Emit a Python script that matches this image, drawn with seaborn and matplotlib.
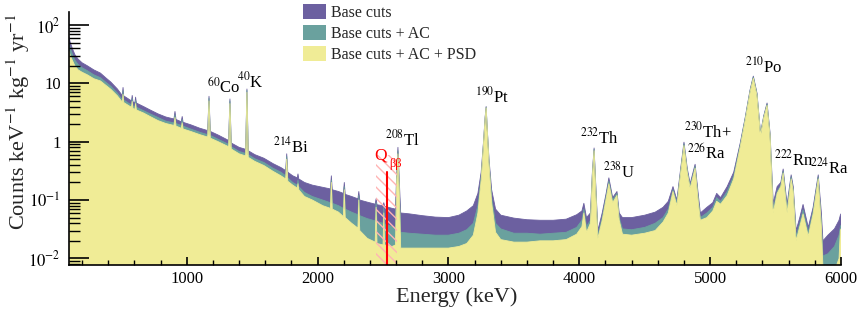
import numpy as np
import pandas as pd
import matplotlib
matplotlib.use("Agg")
import matplotlib.pyplot as plt
from matplotlib.patches import Patch
from matplotlib.ticker import FixedLocator, FixedFormatter, MultipleLocator, NullFormatter
import seaborn as sns

# ---------------- data ----------------
energy_kev = [
    100, 110, 125, 145, 170, 200, 240, 290, 340, 380, 420, 470, 500, 508, 513, 518,
    560, 578, 583, 589, 604, 609, 615, 670, 720, 780, 840, 902, 910, 918, 958, 965,
    972, 1030, 1100, 1160, 1170, 1180, 1240, 1320, 1330, 1340, 1400, 1450, 1460, 1470,
    1520, 1590, 1660, 1720, 1756, 1764, 1772, 1810, 1845, 1850, 1856, 1900, 1960, 2040,
    2098, 2105, 2112, 2160, 2197, 2204, 2211, 2260, 2308, 2315, 2322, 2380, 2440, 2447,
    2454, 2500, 2506, 2512, 2570, 2595, 2605, 2614, 2623, 2635, 2700, 2800, 2900, 3000,
    3080, 3140, 3190, 3225, 3250, 3268, 3280, 3288, 3297, 3310, 3330, 3360, 3400, 3500,
    3600, 3700, 3800, 3900, 3980, 4020, 4035, 4055, 4085, 4100, 4113, 4125, 4142, 4175,
    4205, 4226, 4255, 4288, 4305, 4330, 4400, 4500, 4580, 4640, 4680, 4716, 4746, 4775,
    4800, 4825, 4847, 4885, 4910, 4925, 4975, 5020, 5050, 5080, 5130, 5180, 5230, 5268,
    5305, 5330, 5358, 5385, 5410, 5435, 5458, 5482, 5512, 5540, 5558, 5588, 5619, 5635,
    5657, 5685, 5710, 5750, 5787, 5826, 5850, 5862, 5900, 5950, 5985, 5995, 6000,
]
base_cuts = [
    62, 50, 40, 31, 26, 22.5, 20, 17, 15, 12.5, 10.5, 8.0, 6.5, 6.3, 8.5, 6.1,
    5.3, 5.0, 6.2, 4.8, 4.7, 5.8, 4.6, 4.0, 3.5, 3.0, 2.65, 2.45, 3.3, 2.4, 2.2, 2.7,
    2.15, 1.95, 1.7, 1.55, 6.0, 1.5, 1.3, 1.05, 5.4, 0.95, 0.8, 0.74, 8.0, 0.7,
    0.6, 0.52, 0.42, 0.36, 0.32, 0.62, 0.3, 0.26, 0.24, 0.28, 0.23, 0.2, 0.18, 0.165,
    0.155, 0.26, 0.15, 0.14, 0.13, 0.2, 0.125, 0.115, 0.105, 0.14, 0.1, 0.092, 0.085, 0.105,
    0.083, 0.08, 0.09, 0.078, 0.072, 0.07, 0.3, 0.8, 0.25, 0.06, 0.058, 0.054, 0.051, 0.05,
    0.055, 0.065, 0.08, 0.13, 0.3, 1.0, 2.6, 4.0, 1.6, 0.5, 0.15, 0.07, 0.055, 0.049,
    0.046, 0.045, 0.045, 0.047, 0.056, 0.065, 0.088, 0.05, 0.06, 0.3, 0.78, 0.2, 0.03, 0.06,
    0.13, 0.24, 0.11, 0.14, 0.06, 0.05, 0.05, 0.055, 0.062, 0.075, 0.095, 0.17, 0.1, 0.35,
    0.98, 0.35, 0.19, 0.41, 0.12, 0.06, 0.075, 0.09, 0.13, 0.11, 0.17, 0.3, 0.95, 2.6,
    7.7, 13.3, 6.8, 1.4, 2.8, 4.6, 1.4, 0.088, 0.17, 0.2, 0.34, 0.084, 0.27, 0.17,
    0.03, 0.05, 0.084, 0.034, 0.075, 0.27, 0.06, 0.02, 0.025, 0.032, 0.045, 0.055, 0.058,
]
base_cuts_ac = [
    48, 40, 32, 25, 21, 18.5, 16.5, 14, 12.5, 10.5, 8.9, 6.8, 5.5, 5.4, 7.5, 5.2,
    4.5, 4.3, 5.5, 4.1, 4.0, 5.1, 3.9, 3.4, 3.0, 2.6, 2.25, 2.1, 2.9, 2.05, 1.9, 2.4,
    1.85, 1.65, 1.45, 1.32, 5.6, 1.28, 1.1, 0.9, 5.0, 0.82, 0.68, 0.63, 7.6, 0.6,
    0.51, 0.44, 0.35, 0.3, 0.26, 0.56, 0.24, 0.2, 0.18, 0.22, 0.17, 0.135, 0.115, 0.1,
    0.09, 0.22, 0.088, 0.08, 0.072, 0.17, 0.07, 0.062, 0.056, 0.12, 0.054, 0.048, 0.044, 0.09,
    0.043, 0.04, 0.075, 0.039, 0.035, 0.034, 0.25, 0.7, 0.2, 0.028, 0.027, 0.026, 0.025, 0.025,
    0.027, 0.031, 0.04, 0.08, 0.25, 0.95, 2.5, 3.9, 1.55, 0.45, 0.11, 0.04, 0.032, 0.027,
    0.027, 0.026, 0.027, 0.028, 0.034, 0.045, 0.07, 0.035, 0.045, 0.28, 0.74, 0.18, 0.025, 0.05,
    0.115, 0.21, 0.1, 0.13, 0.05, 0.032, 0.031, 0.034, 0.04, 0.05, 0.07, 0.15, 0.09, 0.32,
    0.92, 0.32, 0.17, 0.38, 0.1, 0.05, 0.06, 0.075, 0.11, 0.095, 0.14, 0.26, 0.88, 2.5,
    7.4, 12.8, 6.5, 1.35, 2.7, 4.4, 1.3, 0.07, 0.14, 0.18, 0.31, 0.07, 0.25, 0.15,
    0.024, 0.04, 0.068, 0.028, 0.065, 0.25, 0.04, 0.011, 0.012, 0.016, 0.025, 0.035, 0.037,
]
base_cuts_ac_psd = [
    36, 30, 25, 20, 17, 15.5, 14, 12, 11, 9.3, 7.9, 6.1, 5.0, 4.9, 6.5, 4.7,
    4.1, 3.9, 4.9, 3.7, 3.6, 4.5, 3.5, 3.1, 2.7, 2.3, 2.05, 1.9, 2.6, 1.85, 1.7, 2.1,
    1.65, 1.5, 1.32, 1.2, 5.0, 1.15, 1.0, 0.82, 4.5, 0.75, 0.62, 0.57, 7.0, 0.54,
    0.46, 0.39, 0.31, 0.26, 0.23, 0.5, 0.21, 0.18, 0.16, 0.19, 0.15, 0.115, 0.1, 0.08,
    0.072, 0.2, 0.07, 0.062, 0.052, 0.15, 0.05, 0.04, 0.033, 0.1, 0.03, 0.022, 0.019, 0.075,
    0.018, 0.017, 0.06, 0.017, 0.016, 0.017, 0.22, 0.62, 0.17, 0.015, 0.015, 0.015, 0.015, 0.015,
    0.016, 0.018, 0.025, 0.06, 0.22, 0.9, 2.4, 3.8, 1.5, 0.42, 0.09, 0.028, 0.021, 0.019,
    0.019, 0.02, 0.02, 0.021, 0.026, 0.035, 0.06, 0.028, 0.04, 0.26, 0.7, 0.16, 0.022, 0.045,
    0.105, 0.19, 0.09, 0.12, 0.045, 0.026, 0.025, 0.027, 0.03, 0.042, 0.06, 0.14, 0.08, 0.3,
    0.86, 0.3, 0.16, 0.35, 0.09, 0.045, 0.05, 0.065, 0.095, 0.085, 0.12, 0.23, 0.82, 2.35,
    7.1, 12.2, 6.2, 1.3, 2.6, 4.2, 1.25, 0.06, 0.13, 0.17, 0.29, 0.06, 0.23, 0.14,
    0.02, 0.035, 0.058, 0.024, 0.058, 0.23, 0.035, 0.007, 0.006, 0.006, 0.01, 0.03, 0.032,
]

series_labels = ["Base cuts", "Base cuts + AC", "Base cuts + AC + PSD"]

# peak annotations: (label, energy, value)
peak_labels = [r"$^{60}$Co", r"$^{40}$K", r"$^{214}$Bi", r"$^{208}$Tl", r"$^{190}$Pt",
               r"$^{232}$Th", r"$^{238}$U", r"$^{230}$Th+", r"$^{226}$Ra", r"$^{210}$Po",
               r"$^{222}$Rn", r"$^{224}$Ra"]
peak_label_e = [1153, 1383, 1659, 2514, 3202, 4005, 4180, 4800, 4823, 5266, 5488, 5763]
peak_label_v = [6.8, 8.6, 0.66, 0.875, 4.77, 0.946, 0.247, 1.2, 0.5, 15.6, 0.4, 0.29]

q_bb = 2528
roi = [2450, 2610]

y_major = [0.01, 0.1, 1, 10, 100]
y_major_labels = [r"$10^{-2}$", r"$10^{-1}$", "1", "10", r"$10^{2}$"]

# ---------------- style ----------------
sns.set_theme(style="ticks")
plt.rcParams["font.family"] = ["Liberation Serif", "DejaVu Serif"]
plt.rcParams["mathtext.fontset"] = "stix"

colors = ["#6c60a0", "#6aa19e", "#f0ec96"]

df = pd.DataFrame({"energy": energy_kev, series_labels[0]: base_cuts,
                   series_labels[1]: base_cuts_ac, series_labels[2]: base_cuts_ac_psd})

fig = plt.figure(figsize=(8.63, 3.12), dpi=100)
ax = fig.add_axes([69 / 863, 1 - 265 / 312, (841 - 69) / 863, (265 - 12) / 312])

floor = 1e-4
for lab, col in zip(series_labels, colors):
    ax.fill_between(df["energy"], floor, df[lab], color=col, linewidth=0, zorder=1)
    sns.lineplot(data=df, x="energy", y=lab, ax=ax, color=col, linewidth=0.6, zorder=1.2)

ax.set_yscale("log")
ax.set_xlim(100, 6000)
ax.set_ylim(0.0077, 167)

# ROI hatch and Q line
ax.fill_between(roi, floor, 0.6, facecolor="none", edgecolor="#ffb4b4", hatch="\\\\\\",
                linewidth=0, zorder=1.5)
ax.plot([q_bb, q_bb], [0.0077, 0.3], color="red", lw=1.5, zorder=1.6)
ax.text(2430, 0.5, "Q", color="red", fontsize=12.5, ha="left", va="baseline", zorder=5)
ax.text(2545, 0.37, "ββ", color="red", fontsize=9, ha="left", va="baseline", zorder=5)

for lab, e, v in zip(peak_labels, peak_label_e, peak_label_v):
    ax.text(e, v, lab, fontsize=12, ha="left", va="baseline", color="black", zorder=5)

# axes styling
ax.set_axisbelow(False)
for s in ["top", "right"]:
    ax.spines[s].set_visible(False)
for s in ["left", "bottom"]:
    ax.spines[s].set_linewidth(1.2)
    ax.spines[s].set_color("black")
    ax.spines[s].set_zorder(3)

y_minor = [m * d for d in [0.001, 0.01, 0.1, 1, 10, 100] for m in range(2, 10)]
ax.yaxis.set_major_locator(FixedLocator(y_major))
ax.yaxis.set_major_formatter(FixedFormatter(y_major_labels))
ax.yaxis.set_minor_locator(FixedLocator(y_minor))
ax.yaxis.set_minor_formatter(NullFormatter())
ax.xaxis.set_major_locator(FixedLocator([1000, 2000, 3000, 4000, 5000, 6000]))
ax.xaxis.set_minor_locator(MultipleLocator(200))

ax.tick_params(axis="y", which="major", direction="in", length=14.5, width=1.2, labelsize=12, pad=6, colors="black")
ax.tick_params(axis="y", which="minor", direction="in", length=8, width=1.0, colors="black")
ax.tick_params(axis="x", which="major", direction="in", length=5.8, width=1.2, labelsize=12, pad=4, colors="black")
ax.tick_params(axis="x", which="minor", direction="in", length=3.6, width=1.0, colors="black")

ax.set_xlabel("")
ax.set_ylabel("")
ax.set_facecolor("white")
fig.text(457 / 863, 1 - 297 / 312, "Energy (keV)", fontsize=16, ha="center", va="center")
fig.text(18 / 863, 1 - 122 / 312, r"Counts keV$^{-1}$ kg$^{-1}$ yr$^{-1}$", fontsize=16,
         ha="center", va="center", rotation=90)

handles = [Patch(facecolor=c, edgecolor="none") for c in colors]
fig.legend(handles, series_labels, loc="upper left", bbox_to_anchor=(300 / 863, 1 - 1 / 312),
           frameon=False, fontsize=11.5, handlelength=1.4, handleheight=1.05,
           labelspacing=0.25, handletextpad=0.35, borderaxespad=0, borderpad=0.2)

fig.savefig("out.png", dpi=100)
